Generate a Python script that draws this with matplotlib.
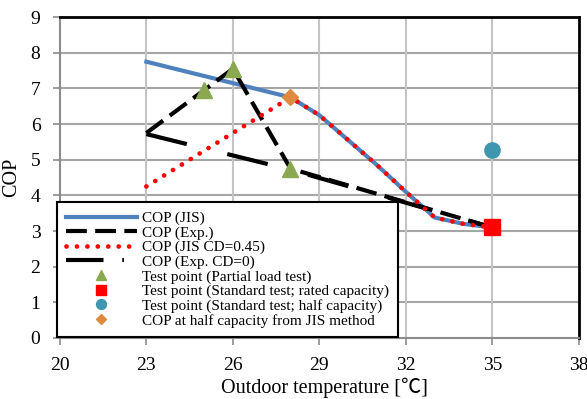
import matplotlib.pyplot as plt
from matplotlib.lines import Line2D

plt.rcParams['font.family'] = ['Liberation Serif', 'Noto Sans CJK JP']

# Data
t_jis = [23, 28, 29, 30, 31, 32, 33, 34, 35]
cop_jis = [7.75, 6.75, 6.25, 5.55, 4.85, 4.1, 3.38, 3.2, 3.1]

t_exp = [23, 25, 26, 28, 35]
cop_exp = [5.75, 6.95, 7.55, 4.75, 3.1]

t_jis_cd = [23, 28, 29, 30, 31, 32, 33, 34, 35]
cop_jis_cd = [4.25, 6.75, 6.25, 5.55, 4.85, 4.1, 3.38, 3.2, 3.1]

t_exp_cd0 = [23, 28, 35]
cop_exp_cd0 = [5.72, 4.72, 3.1]

t_partial = [25, 26, 28]
cop_partial = [6.95, 7.55, 4.75]

t_rated = [35]
cop_rated = [3.1]

t_half = [35]
cop_half = [5.28]

t_jis_half = [28]
cop_jis_half = [6.75]

xticks = [20, 23, 26, 29, 32, 35, 38]
yticks = list(range(0, 10))

fig = plt.figure(figsize=(5.87, 3.99), dpi=100)
ax = fig.add_axes([0.102, 0.153, 0.884, 0.804])

# Lines
l_jis, = ax.plot(t_jis, cop_jis, color='#4F81BD', lw=3, label='COP (JIS)', zorder=3)
l_exp, = ax.plot(t_exp, cop_exp, color='black', lw=3, linestyle=(0, (5, 2)),
                 label='COP (Exp.)', zorder=4)
l_cd, = ax.plot(t_jis_cd, cop_jis_cd, color='#FF0000', lw=3.4, linestyle=(0, (0.01, 2.2)),
                dash_capstyle='round', label='COP (JIS CD=0.45)', zorder=5)
ax.plot(t_exp_cd0, cop_exp_cd0, color='black', lw=3, linestyle=(0, (10, 10)), zorder=4)
l_cd0 = Line2D([], [], color='black', lw=3, linestyle=(0, (9, 4.5, 0.4, 4.5)),
               label='COP (Exp. CD=0)')

# Test points
p1, = ax.plot(t_partial, cop_partial, '^', color='#8AA84F', ms=12, ls='none',
              label='Test point (Partial load test)', zorder=6)
p2, = ax.plot(t_rated, cop_rated, 's', color='#FF0000', ms=11, ls='none',
              label='Test point (Standard test; rated capacity)', zorder=6)
p3, = ax.plot(t_half, cop_half, 'o', color='#3E97AE', ms=11, ls='none',
              label='Test point (Standard test; half capacity)', zorder=6)
p4, = ax.plot(t_jis_half, cop_jis_half, 'D', color='#DE8A3F', ms=8, ls='none',
              label='COP at half capacity from JIS method', zorder=6)

ax.set_xlim(20, 38)
ax.set_ylim(0, 9)
ax.set_xticks(xticks)
ax.set_yticks(yticks)

# Grid
for y in yticks[1:]:
    ax.axhline(y, color='#A6A6A6', lw=1.5, zorder=1)
for x in xticks[1:-1]:
    ax.axvline(x, color='#C4C4C4', lw=1.5, zorder=1)

for side in ['top', 'right']:
    ax.spines[side].set_color('black')
    ax.spines[side].set_linewidth(2)
for side in ['left', 'bottom']:
    ax.spines[side].set_color('#8C8C8C')
    ax.spines[side].set_linewidth(1.5)

ax.tick_params(axis='both', direction='out', length=5, width=1.2, color='#8C8C8C',
               labelsize=14, pad=9)

ax.set_xlabel('Outdoor temperature [℃]', fontsize=14.5)
ax.xaxis.set_label_coords(0.51, -0.125)
ax.set_ylabel('COP', fontsize=14.5)
ax.yaxis.set_label_coords(-0.074, 0.5)

handles = [l_jis, l_exp, l_cd, l_cd0, p1, p2, p3, p4]
leg = ax.legend(handles=handles, loc='lower left', bbox_to_anchor=(-0.006, 0.003),
                fontsize=11, frameon=True, fancybox=False, edgecolor='black',
                framealpha=1, handlelength=4.6, handletextpad=0.35, labelspacing=0.05,
                borderpad=0.62, borderaxespad=0, markerscale=0.65)
leg.get_frame().set_linewidth(1.5)
leg.set_zorder(10)

fig.savefig('out.png', dpi=100)
